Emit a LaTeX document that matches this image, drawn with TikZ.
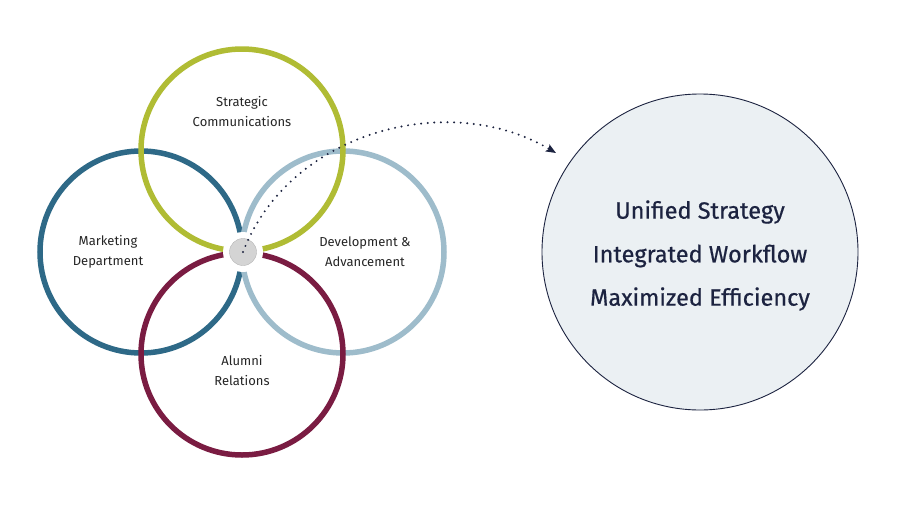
\documentclass[tikz,border=0pt]{standalone}
\usepackage{fontspec}
\setmainfont{Fira Sans}
\newfontfamily\bigfont[FakeBold=0.6]{Fira Sans}
\usepackage{xcolor}
\definecolor{ringgreen}{RGB}{176,188,52}
\definecolor{ringteal}{RGB}{46,105,135}
\definecolor{ringsky}{RGB}{158,188,203}
\definecolor{ringwine}{RGB}{122,28,66}
\definecolor{hubgray}{RGB}{212,212,212}
\definecolor{goalfill}{RGB}{235,240,243}
\definecolor{navy}{RGB}{28,35,64}
\definecolor{labelgray}{RGB}{38,38,38}
\usepackage{tikz}
\usetikzlibrary{positioning,arrows.meta}

\tikzset{
  ring/.style={circle,line width=5.5pt,minimum size=202pt,inner sep=0pt},
  dept/.style={align=center,text=labelgray,font=\fontsize{13}{20}\selectfont},
  goaltext/.style={text=navy,font=\bigfont\fontsize{23.5}{43}\selectfont}
}

\begin{document}
\begin{tikzpicture}[x=1pt,y=-1pt]
  \useasboundingbox[fill=white] (0,0) rectangle (900,504);

  % the four units
  \node[ring,draw=ringteal] (mkt) at (141,252) {};
  \node[ring,draw=ringsky] (dev) at (343,252) {};
  \node[ring,draw=ringgreen] (comm) at (242,150) {};
  \node[ring,draw=ringwine] (alum) at (242,354) {};

  \node[dept] (commlbl) at (242,112) {Strategic\\Communications};
  \node[dept] (mktlbl) at (108,252) {Marketing\\Department};
  \node[dept] (devlbl) at (365,252) {Development \&\\Advancement};
  \node[dept] (alumlbl) at (242,371) {Alumni\\Relations};

  % shared hub
  \node[circle,fill=white,minimum size=40pt,inner sep=0pt] (halo) at (243,252) {};
  \node[circle,fill=hubgray,draw=hubgray!85!black,line width=0.4pt,minimum size=27pt,inner sep=0pt] (hub) at (halo) {};

  % result
  \node[circle,draw=navy,line width=0.9pt,fill=goalfill,minimum size=316pt,inner sep=0pt] (goal) at (700,252) {};
  \node[goaltext] (unified) at (700,212) {Unified Strategy};
  \node[goaltext] (workflow) at (700,256) {Integrated Workflow};
  \node[goaltext] (efficiency) at (700,299) {Maximized Efficiency};

  \coordinate (tip) at (556,153);
  \draw[navy,line width=2.2pt,line cap=round,dash pattern=on 0pt off 6.6pt,
        -{Stealth[length=10pt,width=8pt,inset=2pt]}]
    (hub.center) .. controls (290,130) and (450,90) .. (tip);
\end{tikzpicture}
\end{document}
